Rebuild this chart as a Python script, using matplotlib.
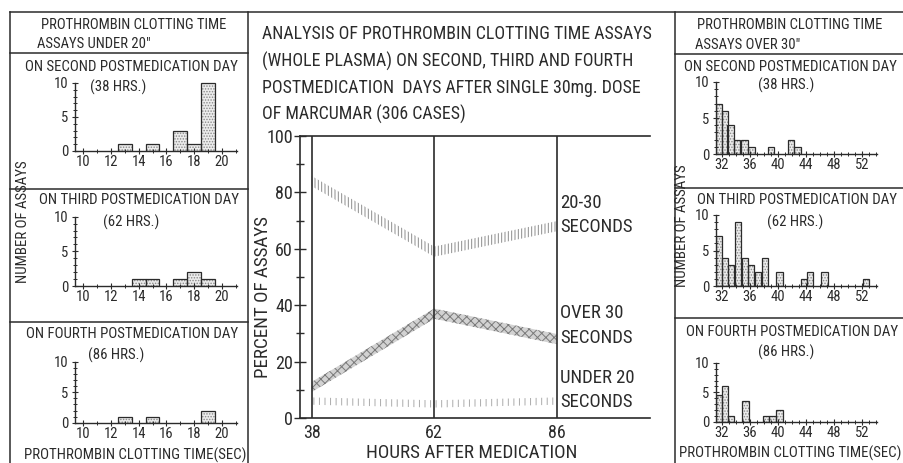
import matplotlib
matplotlib.use("Agg")
import matplotlib.pyplot as plt
from matplotlib import font_manager
from matplotlib.lines import Line2D
from matplotlib.ticker import MultipleLocator, FixedLocator
import numpy as np


def pick_font(names):
    for name in names:
        try:
            font_manager.findfont(font_manager.FontProperties(family=name),
                                  fallback_to_default=False)
            return name
        except ValueError:
            continue
    return "DejaVu Sans"


NARROW = pick_font(["Liberation Sans Narrow", "Roboto Condensed", "Liberation Sans"])
plt.rcParams["font.family"] = [NARROW, "DejaVu Sans"]
plt.rcParams["hatch.linewidth"] = 0.7
INK = "#2b2b2b"
plt.rcParams["text.color"] = INK

# centre chart: percent of assays by hours after medication
HOURS = [38, 62, 86]
PCT_20_30 = [84, 59, 68]
PCT_OVER_30 = [11, 37, 28]
PCT_UNDER_20 = [6, 5, 6]

# assays under 20 sec (clotting time in sec, number of assays)
UNDER20_SEC_38 = [13, 15, 17, 18, 19]
UNDER20_N_38 = [1, 1, 3, 1, 10]
UNDER20_SEC_62 = [14, 15, 17, 18, 19]
UNDER20_N_62 = [1, 1, 1, 2, 1]
UNDER20_SEC_86 = [13, 15, 19]
UNDER20_N_86 = [1, 1, 2]

# assays over 30 sec
OVER30_SEC_38 = [31.55, 32.4, 33.2, 34.15, 35.2, 36.2, 39.0, 41.9, 42.8]
OVER30_N_38 = [7, 6, 4, 2, 2, 1, 1, 2, 1]
OVER30_SEC_62 = [31.55, 32.43, 33.33, 34.28, 35.28, 36.18, 37.13, 38.13,
                 40.2, 43.7, 44.6, 46.65, 52.55]
OVER30_N_62 = [7, 4, 3, 9, 4, 3, 2, 4, 2, 1, 2, 2, 1]
OVER30_SEC_86 = [31.55, 32.43, 33.33, 35.35, 38.3, 39.2, 40.2]
OVER30_N_86 = [4.5, 6, 1, 3.5, 1, 1, 2]

UNDER20_TICKS = [10, 12, 14, 16, 18, 20]
OVER30_TICKS = [32, 36, 40, 44, 48, 52]

W, H = 904, 463
fig = plt.figure(figsize=(W / 100, H / 100), dpi=100)


def px_axes(x0, x1, y_top, y_bot):
    return fig.add_axes([x0 / W, 1 - y_bot / H, (x1 - x0) / W, (y_bot - y_top) / H])


def label(x, y, s, size, ha="center", rot=0):
    fig.text(x / W, 1 - y / H, s, fontsize=size, ha=ha, va="center", rotation=rot)


def hline(y, x0, x1):
    fig.add_artist(Line2D([x0 / W, x1 / W], [1 - y / H] * 2, color=INK, lw=1.1))


def vline(x, y0, y1):
    fig.add_artist(Line2D([x / W] * 2, [1 - y0 / H, 1 - y1 / H], color=INK, lw=1.1))


def histogram(x0, x1, base, ten, xlim, secs, counts, ticks, width):
    top = base - 10.4 * (base - ten) / 10
    ax = px_axes(x0, x1, top, base)
    ax.bar(secs, counts, width=width, facecolor="#ececec", edgecolor="#8a8a8a",
           hatch="......", linewidth=0)
    ax.bar(secs, counts, width=width, fill=False, edgecolor=INK, linewidth=0.9)
    ax.set_xlim(*xlim)
    ax.set_ylim(0, 10.4)
    for s in ("top", "right"):
        ax.spines[s].set_visible(False)
    for s in ("left", "bottom"):
        ax.spines[s].set_color(INK)
        ax.spines[s].set_linewidth(1.0)
    ax.spines["left"].set_bounds(0, 10)
    ax.xaxis.set_major_locator(FixedLocator(ticks))
    ax.xaxis.set_minor_locator(MultipleLocator(1))
    ax.yaxis.set_major_locator(FixedLocator([0, 5, 10]))
    ax.yaxis.set_minor_locator(MultipleLocator(1))
    ax.tick_params(which="major", direction="inout", length=4, width=0.8,
                   labelsize=10.5, pad=1, color=INK, labelcolor=INK)
    ax.tick_params(which="minor", direction="inout", length=2.5, width=0.7, color=INK)
    ax.tick_params(axis="y", pad=3)
    ax.patch.set_visible(False)
    return ax


# frame lines
hline(12, 10, 904)
vline(10, 12, 463)
vline(248, 12, 463)
vline(675, 12, 463)
for y in (53, 189, 322):
    hline(y, 10, 248)
for y in (54, 188, 318):
    hline(y, 675, 904)

# left block: assays under 20"
label(134, 25, "PROTHROMBIN CLOTTING TIME", 10.5)
label(37, 44, "ASSAYS UNDER 20\"", 10.5, ha="left")
label(131, 67, "ON SECOND POSTMEDICATION DAY", 10.7)
label(90, 87, "(38 HRS.)", 10.7, ha="left")
label(139, 200, "ON THIRD POSTMEDICATION DAY", 10.7)
label(103, 222, "(62 HRS.)", 10.7, ha="left")
label(132, 334, "ON FOURTH POSTMEDICATION DAY", 10.7)
label(88, 355, "(86 HRS.)", 10.7, ha="left")
label(135, 455, "PROTHROMBIN CLOTTING TIME(SEC)", 10.7)
label(23, 222, "NUMBER OF ASSAYS", 10.7, rot=90)

lx = (9.42, 21.08)
histogram(75, 237, 151, 83, lx, UNDER20_SEC_38, UNDER20_N_38, UNDER20_TICKS, 1.0)
histogram(75, 237, 286, 216.7, lx, UNDER20_SEC_62, UNDER20_N_62, UNDER20_TICKS, 1.0)
histogram(75, 237, 422.7, 361.7, lx, UNDER20_SEC_86, UNDER20_N_86, UNDER20_TICKS, 1.0)

# right block: assays over 30"
label(790, 25, "PROTHROMBIN CLOTTING TIME", 10.5)
label(695, 45, "ASSAYS OVER 30\"", 10.5, ha="left")
label(790, 67, "ON SECOND POSTMEDICATION DAY", 10.7)
label(758, 85, "(38 HRS.)", 10.7, ha="left")
label(797, 200, "ON THIRD POSTMEDICATION DAY", 10.7)
label(767, 222, "(62 HRS.)", 10.7, ha="left")
label(792, 332, "ON FOURTH POSTMEDICATION DAY", 10.7)
label(758, 352, "(86 HRS.)", 10.7, ha="left")
label(790, 453, "PROTHROMBIN CLOTTING TIME(SEC)", 10.7)
label(682, 226, "NUMBER OF ASSAYS", 10.7, rot=90)

rx = (31.14, 54.14)
histogram(716, 877, 154, 82, rx, OVER30_SEC_38, OVER30_N_38, OVER30_TICKS, 0.9)
histogram(716, 877, 286, 215, rx, OVER30_SEC_62, OVER30_N_62, OVER30_TICKS, 0.9)
histogram(716, 877, 421.7, 363, rx, OVER30_SEC_86, OVER30_N_86, OVER30_TICKS, 0.9)

# centre title
for y, line in zip((34, 61, 88, 114), (
        "ANALYSIS OF PROTHROMBIN CLOTTING TIME ASSAYS",
        "(WHOLE PLASMA) ON SECOND, THIRD AND FOURTH",
        "POSTMEDICATION  DAYS AFTER SINGLE 30mg. DOSE",
        "OF MARCUMAR (306 CASES)")):
    label(262, y, line, 12.9, ha="left")

ax = px_axes(300, 650, 136, 418)
ax.set_xlim(35.7, 104.3)
ax.set_ylim(0, 100)
ax.vlines(HOURS, 0, 100, color=INK, lw=1.2)

y = np.array(PCT_20_30, dtype=float)
ax.fill_between(HOURS, y - 1.8, y + 1.8, facecolor="none", edgecolor="#8c8c8c",
                hatch="|||||", linewidth=0)
y = np.array(PCT_OVER_30, dtype=float)
ax.fill_between(HOURS, y - 1.8, y + 1.8, facecolor="#d2d2d2", edgecolor="#7a7a7a",
                hatch="xxxx", linewidth=0)
y = np.array(PCT_UNDER_20, dtype=float)
ax.fill_between(HOURS, y - 1.3, y + 1.3, facecolor="none", edgecolor="#ababab",
                hatch="|||", linewidth=0)

ax.spines["right"].set_visible(False)
for s in ("left", "top", "bottom"):
    ax.spines[s].set_color(INK)
    ax.spines[s].set_linewidth(1.2)
ax.yaxis.set_major_locator(MultipleLocator(20))
ax.yaxis.set_minor_locator(MultipleLocator(10))
ax.set_xticks(HOURS)
ax.tick_params(axis="y", which="major", direction="inout", length=8, width=1,
               labelsize=13, pad=1, color=INK, labelcolor=INK)
ax.tick_params(axis="y", which="minor", direction="inout", length=6, width=1, color=INK)
ax.tick_params(axis="x", length=0, labelsize=13, pad=4, labelcolor=INK)
ax.patch.set_visible(False)

label(263, 297, "PERCENT OF ASSAYS", 13.7, rot=90)
label(472, 453, "HOURS AFTER MEDICATION", 13.8)
for yy, s in ((203, "20-30"), (227, "SECONDS"), (313, "OVER 30"), (338, "SECONDS"),
              (378, "UNDER 20"), (402, "SECONDS")):
    label(560, yy, s, 13.5, ha="left")

fig.savefig("out.png", dpi=100)
